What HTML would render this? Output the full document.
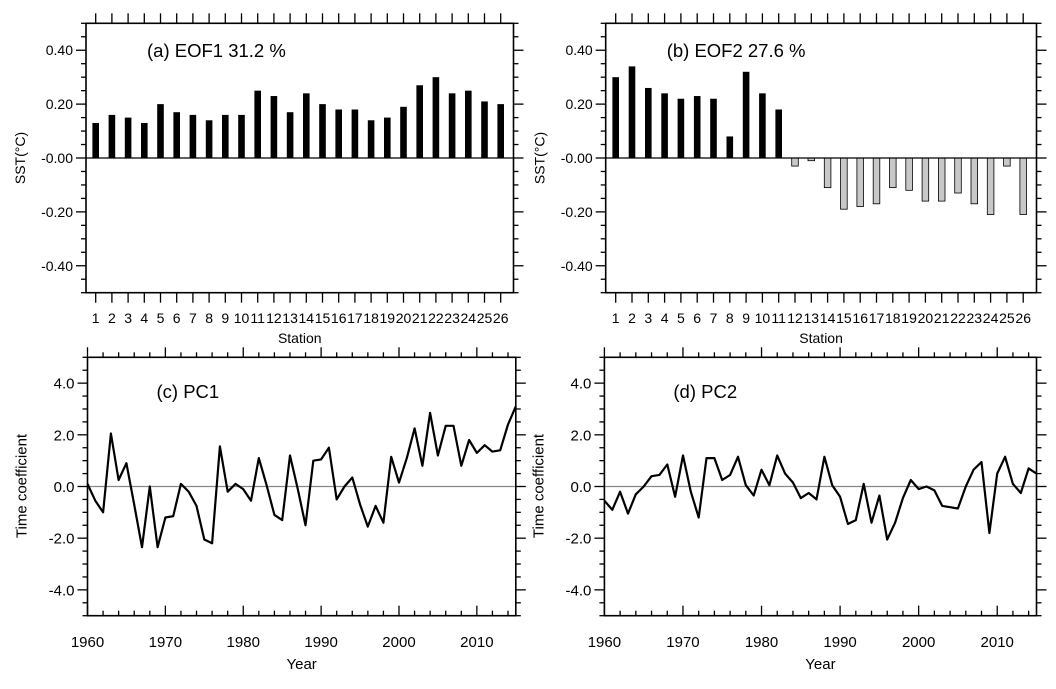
<!DOCTYPE html>
<html><head><meta charset="utf-8"><style>
body{margin:0;background:#fff}
svg{display:block;font-family:"Liberation Sans",sans-serif}
</style></head><body>
<svg id="fig" width="1056" height="689" viewBox="0 0 1056 689"></svg>
<script>
const stations = [1,2,3,4,5,6,7,8,9,10,11,12,13,14,15,16,17,18,19,20,21,22,23,24,25,26];
const eof1 = [0.13,0.16,0.15,0.13,0.20,0.17,0.16,0.14,0.16,0.16,0.25,0.23,0.17,0.24,0.20,0.18,0.18,0.14,0.15,0.19,0.27,0.30,0.24,0.25,0.21,0.20];
const eof2 = [0.30,0.34,0.26,0.24,0.22,0.23,0.22,0.08,0.32,0.24,0.18,-0.03,-0.01,-0.11,-0.19,-0.18,-0.17,-0.11,-0.12,-0.16,-0.16,-0.13,-0.17,-0.21,-0.03,-0.21];
const barTicks = [0.4,0.2,0,-0.2,-0.4];
const barTickLabels = ["0.40","0.20","-0.00","-0.20","-0.40"];
const years = [];
for (let y = 1960; y <= 2015; y++) years.push(y);
const pc1 = [0.1,-0.55,-1.0,2.05,0.25,0.9,-0.7,-2.35,0.0,-2.35,-1.2,-1.15,0.1,-0.2,-0.75,-2.05,-2.2,1.55,-0.2,0.1,-0.1,-0.55,1.1,0.05,-1.1,-1.3,1.2,-0.1,-1.5,1.0,1.05,1.5,-0.5,0.0,0.35,-0.7,-1.55,-0.75,-1.4,1.15,0.15,1.1,2.25,0.8,2.85,1.2,2.35,2.35,0.8,1.8,1.3,1.6,1.35,1.4,2.4,3.1];
const pc2 = [-0.55,-0.9,-0.2,-1.05,-0.3,0.0,0.4,0.45,0.85,-0.4,1.2,-0.2,-1.2,1.1,1.1,0.25,0.45,1.15,0.05,-0.35,0.65,0.05,1.2,0.5,0.15,-0.45,-0.25,-0.5,1.15,0.05,-0.4,-1.45,-1.3,0.1,-1.4,-0.35,-2.05,-1.4,-0.45,0.25,-0.1,0.0,-0.15,-0.75,-0.8,-0.85,0.0,0.65,0.95,-1.8,0.5,1.15,0.1,-0.25,0.7,0.5];
const pcTicks = [4,2,0,-2,-4];
const pcTickLabels = ["4.0","2.0","0.0","-2.0","-4.0"];
const yearTicks = [1960,1970,1980,1990,2000,2010];

const svg = document.getElementById('fig');
const NS = 'http://www.w3.org/2000/svg';
function el(tag, attrs, parent, text){
  const e = document.createElementNS(NS, tag);
  for (const k in attrs) e.setAttribute(k, attrs[k]);
  if (text !== undefined) e.textContent = text;
  (parent || svg).appendChild(e);
  return e;
}
function line(g,x1,y1,x2,y2,c,w){ return el('line',{x1,y1,x2,y2,stroke:c||'#000','stroke-width':w||1.3},g); }

function barPanel(name, L, R, title, vals, firstX, dx){
  const T = 23.3, B = 292.7;
  const g = el('g',{});
  
  
  const ys = v => 158 - v*269.4;
  const xs = i => firstX + (i-1)*dx;
  for (let k=-10;k<=10;k++){
    const v=k*0.05, y=ys(v);
    const major = k%4===0;
    line(g,L-(major?10:5),y,L,y);
    line(g,R,y,R+(major?10:5),y);
  }
  stations.forEach(s=>{
    line(g,xs(s),T,xs(s),T-10);
    line(g,xs(s),B,xs(s),B+10);
    const t = el('text',{x:xs(s),y:323,'font-size':14,'text-anchor':'middle'},g,String(s));
    
    
  });
  barTicks.forEach((v,i)=>{
    const t = el('text',{x:L-13,y:ys(v)+5,'font-size':14,'text-anchor':'end'},g,barTickLabels[i]);
    
    
  });
  vals.forEach((v,i)=>{
    const x = xs(stations[i]);
    const y0 = ys(0), y1 = ys(v);
    const r = el('rect',{x:x-3.3,y:Math.min(y0,y1),width:6.6,height:Math.abs(y1-y0),
      fill: v>=0?'#000':'#c8c8c8', stroke:'#000','stroke-width':v>=0?0:0.8},g);
    
    
  });
  line(g,L,ys(0),R,ys(0),'#000',1.2);
  el('rect',{x:L,y:T,width:R-L,height:B-T,fill:'none',stroke:'#000','stroke-width':1.6},g);
  const tt = el('text',{x:L+61,y:57,'font-size':18.5},g,title);
  
  
  const xl = el('text',{x:(L+R)/2,y:343,'font-size':14,'text-anchor':'middle'},g,'Station');
  
  
  const yl = el('text',{x:0,y:0,'font-size':14,'text-anchor':'middle',transform:`translate(${L-61},158) rotate(-90)`},g,'SST(°C)');
  
  
}

function pcPanel(name, L, R, title, vals){
  const T = 357.3, B = 615.7;
  const g = el('g',{});
  
  
  const ys = v => 486.5 - v*25.84;
  const xs = yr => L + (yr-1960)*(R-L)/55;
  for (let k=-10;k<=10;k++){
    const v=k*0.5, y=ys(v);
    const major = k%4===0;
    line(g,L-(major?10:5),y,L,y);
    line(g,R,y,R+(major?10:5),y);
  }
  for (let yr=1960; yr<=2015; yr+=2){
    const major = yr%10===0;
    line(g,xs(yr),T,xs(yr),T-(major?10:5));
    line(g,xs(yr),B,xs(yr),B-(major?10:5));
  }
  yearTicks.forEach(yr=>{
    const t = el('text',{x:xs(yr),y:647,'font-size':15,'text-anchor':'middle'},g,String(yr));
    
    
  });
  pcTicks.forEach((v,i)=>{
    const t = el('text',{x:L-13,y:ys(v)+5.5,'font-size':15,'text-anchor':'end'},g,pcTickLabels[i]);
    
    
  });
  line(g,L,ys(0),R,ys(0),'#888',1.3);
  const d = vals.map((v,i)=>(i?'L':'M')+xs(years[i]).toFixed(1)+','+ys(v).toFixed(1)).join('');
  const p = el('path',{d,fill:'none',stroke:'#000','stroke-width':2.2,'stroke-linejoin':'round'},g);
  
  
  el('rect',{x:L,y:T,width:R-L,height:B-T,fill:'none',stroke:'#000','stroke-width':1.6},g);
  const tt = el('text',{x:L+69,y:398,'font-size':18.5},g,title);
  
  
  const xl = el('text',{x:(L+R)/2,y:669,'font-size':15,'text-anchor':'middle'},g,'Year');
  
  
  const yl = el('text',{x:0,y:0,'font-size':15,'text-anchor':'middle',transform:`translate(${L-61},486) rotate(-90)`},g,'Time coefficient');
  
  
}

barPanel('panel-a-eof1', 86, 513.5, '(a) EOF1 31.2 %', eof1, 95.7, 16.2);
barPanel('panel-b-eof2', 605.7, 1036.5, '(b) EOF2 27.6 %', eof2, 615.7, 16.3);
pcPanel('panel-c-pc1', 87.5, 515.8, '(c) PC1', pc1);
pcPanel('panel-d-pc2', 604.4, 1036.5, '(d) PC2', pc2);
</script>
</body></html>
